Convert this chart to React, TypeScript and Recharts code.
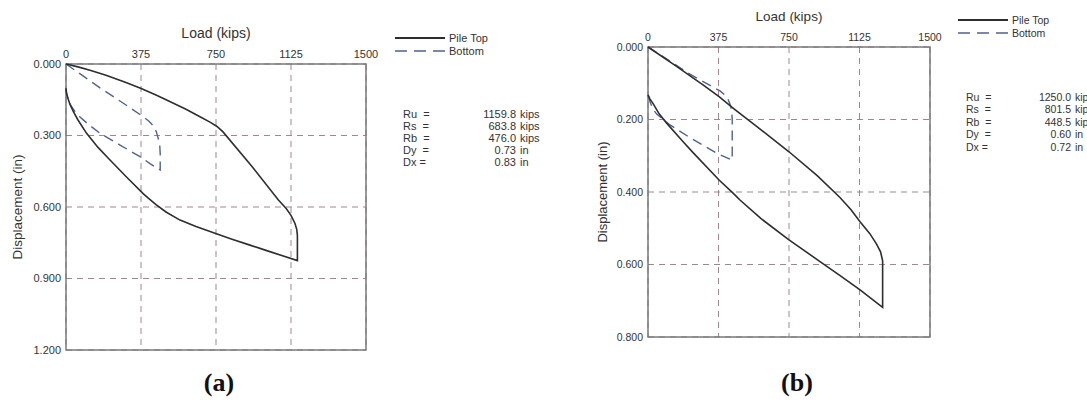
import React from "react";
import { LineChart, Line, XAxis, YAxis, CartesianGrid, ReferenceArea } from "recharts";

// load (kips), displacement (in)
const loadTicks = [0, 375, 750, 1125, 1500];
const dispTicksA = [0, 0.3, 0.6, 0.9, 1.2];
const dispTicksB = [0, 0.2, 0.4, 0.6, 0.8];

const pileTopA = [
  [0, 0], [60, 0.012], [120, 0.026], [200, 0.047], [300, 0.078], [373, 0.102],
  [450, 0.13], [503, 0.151], [600, 0.19], [670, 0.221], [720, 0.244], [755, 0.262],
  [785, 0.285], [930, 0.43], [1062, 0.571], [1100, 0.605], [1125, 0.635],
  [1145, 0.669], [1154, 0.695], [1157, 0.72], [1157, 0.825],
  [1000, 0.782], [920, 0.76], [830, 0.735], [745, 0.71], [650, 0.682], [570, 0.655],
  [500, 0.621], [450, 0.59], [410, 0.562], [387, 0.545], [300, 0.472], [220, 0.403],
  [160, 0.35], [103, 0.291], [60, 0.235], [37, 0.2], [20, 0.17], [8, 0.14],
  [2, 0.12], [0, 0.102],
];
const bottomA = [
  [0, 0], [170, 0.1], [300, 0.172], [380, 0.218], [415, 0.24], [437, 0.26],
  [452, 0.285], [462, 0.315], [469, 0.345], [471, 0.375], [471, 0.445],
  [420, 0.418], [370, 0.389], [270, 0.34], [170, 0.291], [110, 0.252], [70, 0.222],
  [45, 0.2], [25, 0.175], [12, 0.151], [3, 0.123], [0, 0.102],
];
const pileTopB = [
  [0, 0], [150, 0.053], [300, 0.107], [378, 0.137], [454, 0.169], [600, 0.228],
  [750, 0.289], [900, 0.355], [1021, 0.415], [1080, 0.449], [1128, 0.482],
  [1180, 0.515], [1215, 0.543], [1237, 0.565], [1248, 0.59], [1248, 0.718],
  [1128, 0.67], [1020, 0.63], [915, 0.592], [750, 0.532], [600, 0.473],
  [489, 0.422], [454, 0.404], [378, 0.367], [241, 0.292], [188, 0.262], [99, 0.21],
  [60, 0.185], [28, 0.157], [10, 0.143], [0, 0.132],
];
const bottomB = [
  [0, 0], [82, 0.027], [223, 0.075], [330, 0.106], [383, 0.121], [410, 0.133],
  [427, 0.146], [438, 0.16], [445, 0.176], [448, 0.2], [448, 0.312],
  [365, 0.293], [223, 0.25], [117, 0.215], [46, 0.185], [25, 0.17], [11, 0.152],
  [0, 0.132],
];

const statLabels = ["Ru  =", "Rs  =", "Rb  =", "Dy  =", "Dx ="];
const statUnits = ["kips", "kips", "kips", "in", "in"];
const statsA = ["1159.8", "683.8", "476.0", "0.73", "0.83"];
const statsB = ["1250.0", "801.5", "448.5", "0.60", "0.72"];

const toPts = (arr: number[][]) => arr.map(([load, disp]) => ({ load, disp }));

const FONT = "'Liberation Sans', Arial, sans-serif";
const TEXT = "#333";
const SOLID = "#2e2e2e";
const DASHED = "#50628f";
const GRID = "#a2858f";

function Panel({
  left, width, height, margin, yMax, yTicks, top, bottom, tickFont, titleFont, yTitleFont, yLabelOffset,
}: any) {
  return (
    <div style={{ position: "absolute", left, top: 0 }}>
      <LineChart width={width} height={height} margin={margin}>
        <CartesianGrid stroke={GRID} strokeDasharray="6 5" strokeWidth={1} />
        <XAxis
          type="number"
          dataKey="load"
          orientation="top"
          domain={[0, 1500]}
          ticks={loadTicks}
          interval={0}
          height={20}
          axisLine={false}
          tickLine={false}
          tickSize={4}
          tickMargin={2}
          tick={{ fontSize: tickFont, fill: TEXT }}
          label={{ value: "Load (kips)", position: "top", offset: 6, fontSize: titleFont, fill: TEXT }}
        />
        <YAxis
          type="number"
          dataKey="disp"
          domain={[0, yMax]}
          ticks={yTicks}
          interval={0}
          reversed
          width={54}
          axisLine={false}
          tickLine={false}
          tickSize={3}
          tickMargin={2}
          tickFormatter={(v: number) => v.toFixed(3)}
          tick={{ fontSize: tickFont, fill: TEXT }}
          label={{
            value: "Displacement (in)",
            angle: -90,
            position: "insideLeft",
            offset: yLabelOffset,
            fontSize: yTitleFont,
            fill: TEXT,
            style: { textAnchor: "middle" },
          }}
        />
        <ReferenceArea
          x1={0}
          x2={1500}
          y1={0}
          y2={yMax}
          fill="none"
          fillOpacity={0}
          stroke="#7a7a7a"
          strokeWidth={1.5}
          ifOverflow="visible"
        />
        <Line
          data={toPts(bottom)}
          dataKey="disp"
          type="linear"
          stroke={DASHED}
          strokeWidth={1.4}
          strokeDasharray="10 6"
          dot={false}
          isAnimationActive={false}
        />
        <Line
          data={toPts(top)}
          dataKey="disp"
          type="linear"
          stroke={SOLID}
          strokeWidth={1.6}
          dot={false}
          isAnimationActive={false}
        />
      </LineChart>
    </div>
  );
}

function Legend({ x, y, size }: { x: number; y: number; size: number }) {
  const row = (dy: number, label: string, dashed: boolean) => (
    <div style={{ position: "absolute", left: x, top: y + dy - 7, height: 14, display: "flex", alignItems: "center" }}>
      <svg width={50} height={14} style={{ display: "block" }}>
        <line
          x1={0}
          y1={7}
          x2={50}
          y2={7}
          stroke={dashed ? DASHED : SOLID}
          strokeWidth={dashed ? 1.5 : 1.8}
          strokeDasharray={dashed ? "12 7" : undefined}
        />
      </svg>
      <span style={{ fontSize: size, color: TEXT, marginLeft: 4, whiteSpace: "pre" }}>{label}</span>
    </div>
  );
  return (
    <>
      {row(0, "Pile Top", false)}
      {row(13, "Bottom", true)}
    </>
  );
}

function Stats({ x, numRight, y, step, values, size }: any) {
  return (
    <>
      {statLabels.map((lab, i) => (
        <React.Fragment key={lab}>
          <div style={{ position: "absolute", left: x, top: y + i * step - 7, lineHeight: "14px", fontSize: size, color: TEXT, whiteSpace: "pre" }}>
            {lab}
          </div>
          <div style={{ position: "absolute", left: numRight - 80, width: 80, textAlign: "right", top: y + i * step - 7, lineHeight: "14px", fontSize: size, color: TEXT }}>
            {values[i]}
          </div>
          <div style={{ position: "absolute", left: numRight + 4, top: y + i * step - 7, lineHeight: "14px", fontSize: size, color: TEXT, whiteSpace: "pre" }}>
            {statUnits[i]}
          </div>
        </React.Fragment>
      ))}
    </>
  );
}

export default function App() {
  return (
    <div
      style={{
        position: "absolute",
        left: 0,
        top: 0,
        width: 1087,
        height: 400,
        overflow: "hidden",
        background: "#fff",
        fontFamily: FONT,
      }}
    >
      <Panel
        left={0}
        width={390}
        height={360}
        margin={{ top: 44, left: 12, right: 24, bottom: 10 }}
        yMax={1.2}
        yTicks={dispTicksA}
        top={pileTopA}
        bottom={bottomA}
        tickFont={11}
        titleFont={14}
        yTitleFont={13.5}
        yLabelOffset={5.5}
      />
      <Panel
        left={560}
        width={400}
        height={360}
        margin={{ top: 27, left: 34, right: 30, bottom: 23 }}
        yMax={0.8}
        yTicks={dispTicksB}
        top={pileTopB}
        bottom={bottomB}
        tickFont={10.5}
        titleFont={13.5}
        yTitleFont={13}
        yLabelOffset={8.5}
      />
      <Legend x={395} y={38} size={11} />
      <Legend x={958} y={20} size={10.5} />
      <Stats x={403} numRight={516} y={114} step={12.1} values={statsA} size={11} />
      <Stats x={966} numRight={1071} y={97} step={12.4} values={statsB} size={10.5} />
      <div style={{ position: "absolute", left: 169, width: 100, textAlign: "center", top: 368, lineHeight: "30px", fontSize: 26, fontWeight: "bold", fontFamily: "'Liberation Serif', 'Times New Roman', serif", color: "#111" }}>
        (a)
      </div>
      <div style={{ position: "absolute", left: 747, width: 100, textAlign: "center", top: 368, lineHeight: "30px", fontSize: 26, fontWeight: "bold", fontFamily: "'Liberation Serif', 'Times New Roman', serif", color: "#111" }}>
        (b)
      </div>
    </div>
  );
}
